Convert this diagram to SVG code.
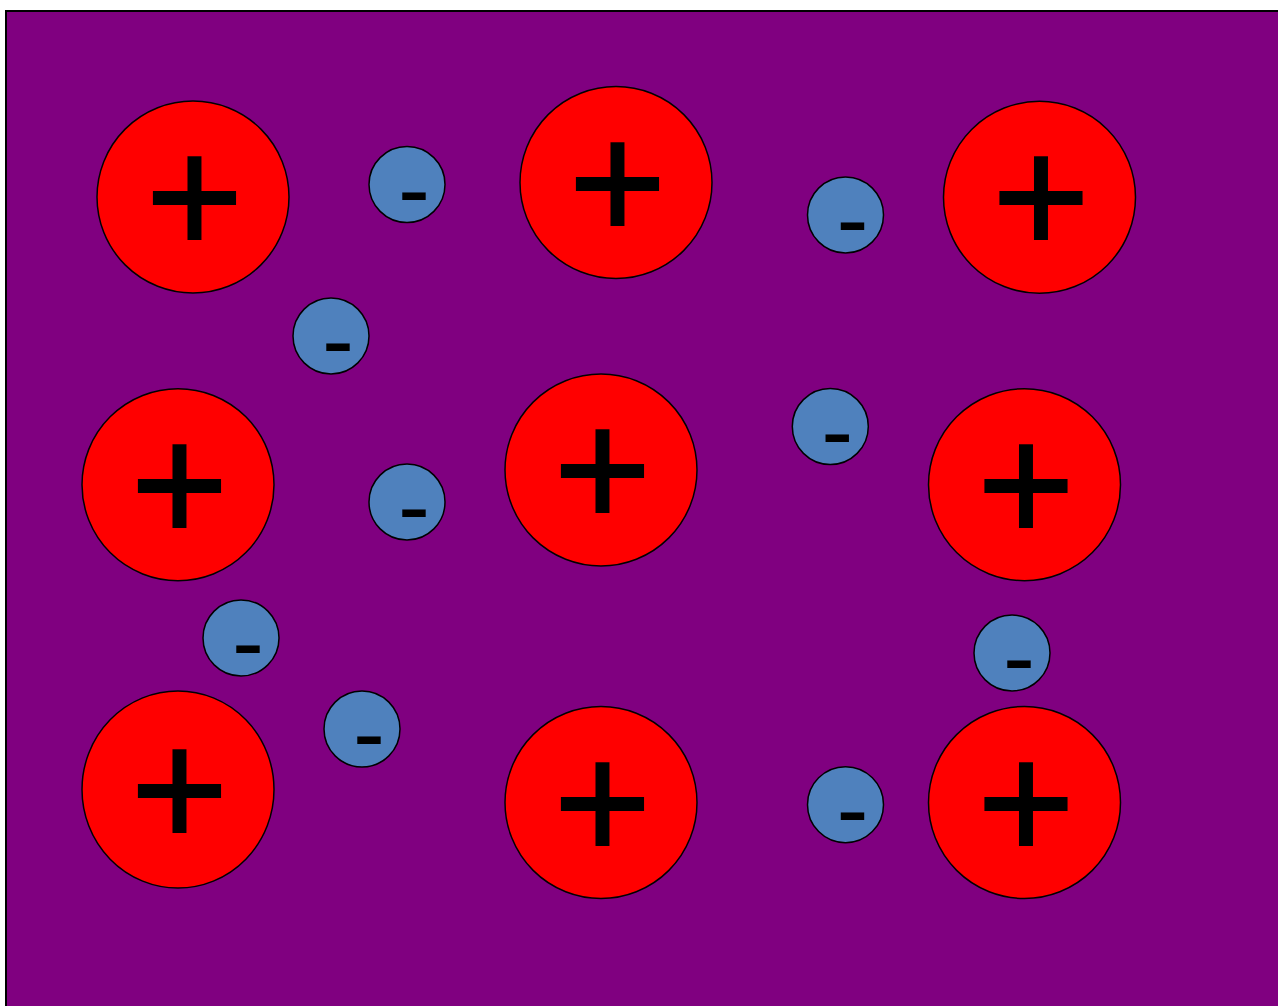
<svg xmlns="http://www.w3.org/2000/svg" width="1278" height="1006" viewBox="0 0 1278 1006">
<style>
.bg{fill:#800080;stroke:#000;stroke-width:2}
.pos{fill:#FF0000;stroke:#000;stroke-width:1.5}
.neg{fill:#4F81BD;stroke:#000;stroke-width:1.5}
.plus{font-family:"Liberation Sans",Arial,sans-serif;font-size:167px;fill:#000;stroke:#000;stroke-width:2;text-anchor:middle}
.minus{font-family:"Liberation Sans",Arial,sans-serif;font-size:96px;fill:#000;text-anchor:middle}
</style>
<rect class="bg" x="6" y="11" width="1290" height="1010"/>
<g id="connectors"></g>
<g id="p1"><circle class="pos" cx="193" cy="197" r="96"/><text class="plus" x="194.5" y="254">+</text></g>
<g id="p2"><circle class="pos" cx="616" cy="182.5" r="96"/><text class="plus" x="617.5" y="239.5">+</text></g>
<g id="p3"><circle class="pos" cx="1039.5" cy="197.3" r="96"/><text class="plus" x="1041" y="254.3">+</text></g>
<g id="p4"><circle class="pos" cx="178" cy="484.7" r="96"/><text class="plus" x="179.5" y="541.7">+</text></g>
<g id="p5"><circle class="pos" cx="601" cy="470" r="96"/><text class="plus" x="602.5" y="527">+</text></g>
<g id="p6"><circle class="pos" cx="1024.5" cy="484.7" r="96"/><text class="plus" x="1026" y="541.7">+</text></g>
<g id="p7"><ellipse class="pos" cx="178" cy="789.5" rx="96" ry="98.5"/><text class="plus" x="179.5" y="847">+</text></g>
<g id="p8"><circle class="pos" cx="601" cy="802.5" r="96"/><text class="plus" x="602.5" y="859.5">+</text></g>
<g id="p9"><circle class="pos" cx="1024.5" cy="802.5" r="96"/><text class="plus" x="1026" y="859.5">+</text></g>
<g id="n1"><circle class="neg" cx="407" cy="184.5" r="38"/><text class="minus" x="414" y="221.5">-</text></g>
<g id="n2"><circle class="neg" cx="845.5" cy="215" r="38"/><text class="minus" x="852.5" y="252">-</text></g>
<g id="n3"><circle class="neg" cx="331" cy="336" r="38"/><text class="minus" x="338" y="373">-</text></g>
<g id="n4"><circle class="neg" cx="830.3" cy="426.5" r="38"/><text class="minus" x="837.3" y="463.5">-</text></g>
<g id="n5"><circle class="neg" cx="407" cy="502" r="38"/><text class="minus" x="414" y="539">-</text></g>
<g id="n6"><circle class="neg" cx="241" cy="638" r="38"/><text class="minus" x="248" y="675">-</text></g>
<g id="n7"><circle class="neg" cx="1012" cy="653" r="38"/><text class="minus" x="1019" y="690">-</text></g>
<g id="n8"><circle class="neg" cx="362" cy="729" r="38"/><text class="minus" x="369" y="766">-</text></g>
<g id="n9"><circle class="neg" cx="845.5" cy="804.7" r="38"/><text class="minus" x="852.5" y="841.7">-</text></g>
</svg>
